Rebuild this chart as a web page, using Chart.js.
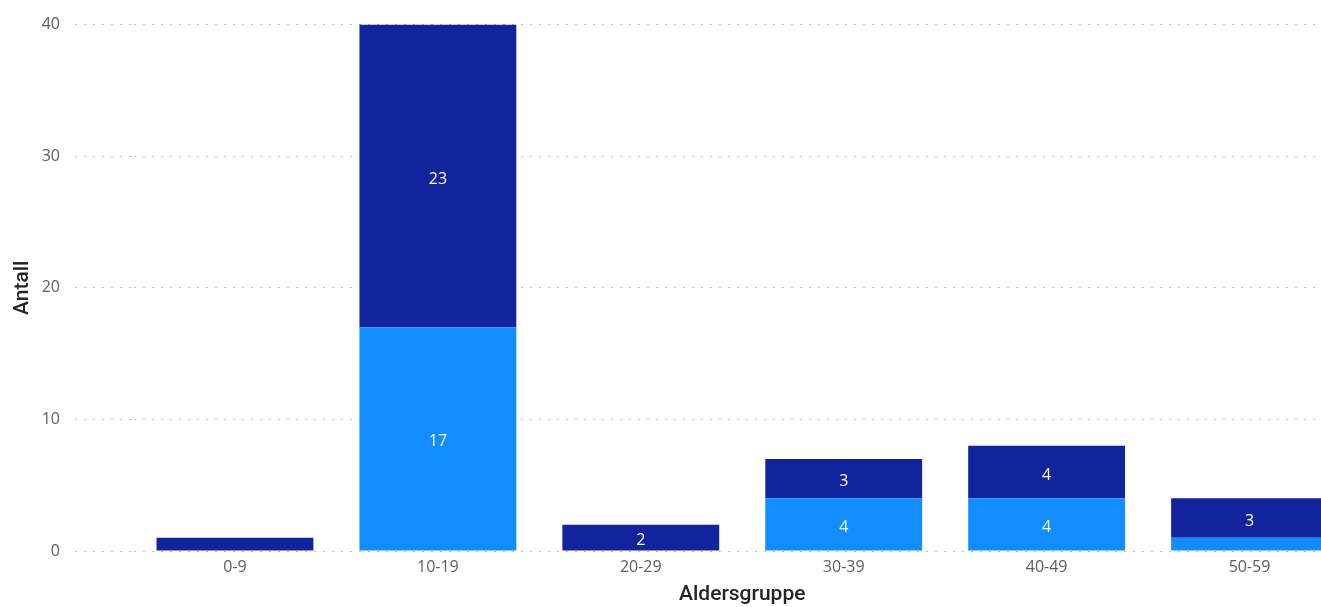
<!DOCTYPE html>
<html>
<head>
<meta charset="utf-8">
<script src="https://cdn.jsdelivr.net/npm/chart.js@4.4.1/dist/chart.umd.min.js"></script>
<style>
  html, body { margin: 0; padding: 0; background: #fff; overflow: hidden; }
  #wrap { width: 1360px; height: 607px; }
</style>
</head>
<body>
<div id="wrap"><canvas id="chart" width="1360" height="607"></canvas></div>
<script>
const ageGroups = ['0-9', '10-19', '20-29', '30-39', '40-49', '50-59']
const lightSeries = [0, 17, 0, 4, 4, 1]
const darkSeries = [1, 23, 2, 3, 4, 3]
const yTicks = [0, 10, 20, 30, 40]

const tickFont = { family: "'Open Sans', 'Noto Sans', sans-serif", size: 16 }
const titleFont = { family: "Roboto, 'Noto Sans', sans-serif", size: 21, weight: '500' }

// white value labels inside the bars, skipped when the bar is too short
const barLabels = {
    id: 'barLabels',
    afterDatasetsDraw(chart) {
        const ctx = chart.ctx
        ctx.save()
        ctx.fillStyle = '#ffffff'
        ctx.font = "16px 'Open Sans', 'Noto Sans', sans-serif"
        ctx.textAlign = 'center'
        ctx.textBaseline = 'middle'
        chart.data.datasets.forEach((ds, i) => {
            const meta = chart.getDatasetMeta(i)
            meta.data.forEach((bar, j) => {
                const v = ds.data[j]
                if (!v) return
                const { x, y, base } = bar.getProps(['x', 'y', 'base'], true)
                if (base - y < 20) return
                ctx.fillText(String(v), x, (y + base) / 2 + 3)
            })
        })
        ctx.restore()
    }
}

new Chart(document.getElementById('chart'), {
    type: 'bar',
    data: {
        labels: ageGroups,
        datasets: [
            {
                label: 'Lys',
                data: lightSeries,
                backgroundColor: '#118DFF',
                categoryPercentage: 1,
                barPercentage: 0.773
            },
            {
                label: 'Mørk',
                data: darkSeries,
                backgroundColor: '#12239E',
                categoryPercentage: 1,
                barPercentage: 0.773
            }
        ]
    },
    options: {
        responsive: false,
        animation: false,
        devicePixelRatio: 1,
        layout: { padding: { top: 23, right: 9, left: 0, bottom: 0 } },
        plugins: {
            legend: { display: false },
            tooltip: { enabled: false }
        },
        scales: {
            x: {
                stacked: true,
                grid: { display: false, drawTicks: false },
                border: { display: false },
                ticks: { color: '#605E5C', font: tickFont, padding: 7, maxRotation: 0 },
                title: {
                    display: true,
                    text: 'Aldersgruppe',
                    color: '#252423',
                    font: titleFont,
                    padding: { top: 14, bottom: 0 }
                },
                afterFit(scale) { scale.height = 56 }
            },
            y: {
                stacked: true,
                min: 0,
                max: 40,
                afterBuildTicks(scale) { scale.ticks = yTicks.map(v => ({ value: v })) },
                grid: {
                    color: '#BEBCBA',
                    tickColor: '#BEBCBA',
                    lineWidth: 1,
                    tickLength: 58.5,
                    tickBorderDash: [2, 7]
                },
                border: { display: false, dash: [2, 7] },
                ticks: { color: '#605E5C', font: tickFont, padding: 15 },
                title: {
                    display: true,
                    text: 'Antall',
                    color: '#252423',
                    font: titleFont,
                    padding: { top: 10, bottom: 0 }
                },
                afterFit(scale) { scale.width = 133.5 }
            }
        }
    },
    plugins: [barLabels]
})
</script>
</body>
</html>
